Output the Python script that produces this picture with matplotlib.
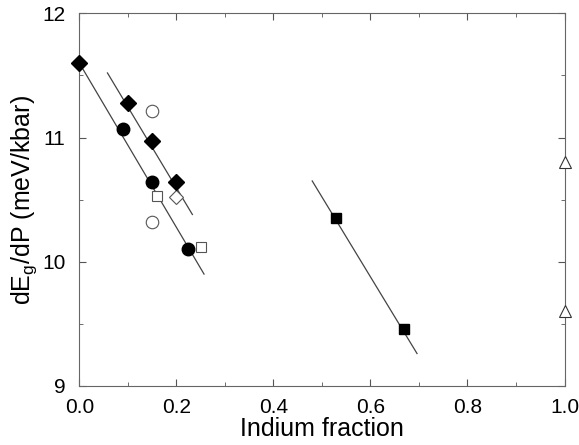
import matplotlib
matplotlib.use('Agg')
import matplotlib.pyplot as plt
from matplotlib.ticker import MultipleLocator, FormatStrFormatter

plt.rcParams['font.family'] = ['Liberation Sans', 'DejaVu Sans']

# filled diamonds
dia_x = [0.0, 0.1, 0.15, 0.2]
dia_y = [11.6, 11.28, 10.97, 10.64]
# filled circles
circ_x = [0.09, 0.15, 0.225]
circ_y = [11.07, 10.64, 10.1]
# filled squares
sq_x = [0.53, 0.67]
sq_y = [10.35, 9.46]
# open symbols
ocirc_x = [0.15, 0.15]
ocirc_y = [11.21, 10.32]
osq_x = [0.16, 0.25]
osq_y = [10.53, 10.12]
odia_x = [0.2]
odia_y = [10.52]
otri_x = [1.0, 1.0]
otri_y = [10.8, 9.6]

# fitted lines (end points)
line1_x = [0.0, 0.257]
line1_y = [11.6, 9.9]
line2_x = [0.058, 0.233]
line2_y = [11.52, 10.38]
line3_x = [0.48, 0.696]
line3_y = [10.65, 9.26]

fig = plt.figure(figsize=(5.79, 4.45), dpi=100)
ax = fig.add_axes([0.137, 0.133, 0.838, 0.837])

for lx, ly in [(line1_x, line1_y), (line2_x, line2_y), (line3_x, line3_y)]:
    ax.plot(lx, ly, color='#444444', lw=0.9, zorder=1)

ax.plot(dia_x, dia_y, 'D', color='black', ms=8.5, zorder=3, clip_on=False)
ax.plot(circ_x, circ_y, 'o', color='black', ms=9, zorder=3)
ax.plot(sq_x, sq_y, 's', color='black', ms=7.5, zorder=3)
ax.plot(ocirc_x, ocirc_y, 'o', mfc='white', mec='#555555', mew=0.8, ms=9, zorder=2)
ax.plot(osq_x, osq_y, 's', mfc='white', mec='#555555', mew=0.8, ms=7, zorder=2)
ax.plot(odia_x, odia_y, 'D', mfc='white', mec='#555555', mew=0.8, ms=7.5, zorder=2)
ax.plot(otri_x, otri_y, '^', mfc='white', mec='#333333', mew=0.8, ms=9, zorder=3, clip_on=False)

ax.set_xlim(0, 1.0)
ax.set_ylim(9, 12)
ax.xaxis.set_major_locator(MultipleLocator(0.2))
ax.xaxis.set_minor_locator(MultipleLocator(0.1))
ax.yaxis.set_major_locator(MultipleLocator(1))
ax.yaxis.set_minor_locator(MultipleLocator(0.5))
ax.xaxis.set_major_formatter(FormatStrFormatter('%.1f'))
ax.tick_params(which='both', direction='in', top=True, right=True, labelsize=15,
               color='#555555')
ax.tick_params(which='major', length=5)
ax.tick_params(which='minor', length=3)
ax.tick_params(axis='y', pad=10)
ax.tick_params(axis='x', pad=9)
for s in ax.spines.values():
    s.set_color('#666666')
    s.set_linewidth(0.8)

ax.set_xlabel('Indium fraction', fontsize=18, labelpad=0)
ax.set_ylabel(r'dE$_\mathregular{g}$/dP (meV/kbar)', fontsize=18, labelpad=2)

fig.savefig('out.png', dpi=100)
